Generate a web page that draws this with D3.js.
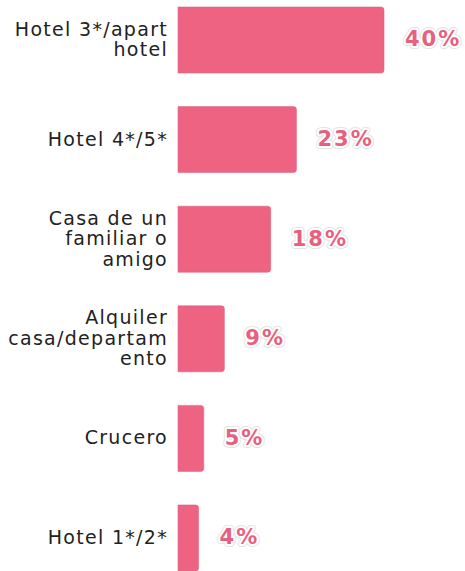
<!DOCTYPE html>
<meta charset="utf-8">
<style>
body { margin: 0; background: #fff; }
.label { font-family: "DejaVu Sans", sans-serif; font-size: 19px; letter-spacing: 1.3px; fill: #222; }
.value, .halo {
  font-family: "DejaVu Sans", sans-serif; font-size: 21px; font-weight: bold; letter-spacing: 2px;
  fill: #e8607f; stroke-linejoin: round; paint-order: stroke;
}
.halo { stroke: #e4e4e4; stroke-width: 6px; }
.value { stroke: #fff; stroke-width: 4px; }
</style>
<svg width="465" height="571"></svg>
<script src="https://d3js.org/d3.v7.min.js"></script>
<script>

var categories = ["Hotel 3*/apart hotel", "Hotel 4*/5*", "Casa de un familiar o amigo",
                  "Alquiler casa/departamento", "Crucero", "Hotel 1*/2*"];
var labelLines = [["Hotel 3*/apart", "hotel"], ["Hotel 4*/5*"], ["Casa de un", "familiar o", "amigo"],
                  ["Alquiler", "casa/departam", "ento"], ["Crucero"], ["Hotel 1*/2*"]];
var values = [40, 23, 18, 9, 5, 4];

var data = categories.map(function(c, i) { return {cat: c, lines: labelLines[i], value: values[i]}; });

var svg = d3.select("svg");

var x = d3.scaleLinear().domain([0, 40]).range([178, 384]);
var y = d3.scaleBand().domain(categories).range([7, 571]).paddingInner(0.337).paddingOuter(0);

svg.selectAll(".bar")
  .data(data)
  .enter().append("path")
  .attr("class", "bar")
  .attr("fill", "#ee6282")
  .attr("stroke", "#d9697f")
  .attr("stroke-width", 0.6)
  .attr("d", function(d) {
    var x0 = x(0), x1 = x(d.value), y0 = y(d.cat), h = y.bandwidth(), r = 3;
    return "M" + x0 + "," + y0 + "H" + (x1 - r) + "Q" + x1 + "," + y0 + " " + x1 + "," + (y0 + r) +
      "V" + (y0 + h - r) + "Q" + x1 + "," + (y0 + h) + " " + (x1 - r) + "," + (y0 + h) + "H" + x0 + "Z";
  });

var lab = svg.selectAll(".label")
  .data(data)
  .enter().append("text")
  .attr("class", "label")
  .attr("text-anchor", "end")
  .attr("x", 167)
  .attr("y", function(d) { return y(d.cat) + y.bandwidth() / 2; });

lab.selectAll("tspan")
  .data(function(d) { return d.lines.map(function(l, i) { return {t: l, i: i, n: d.lines.length}; }); })
  .enter().append("tspan")
  .attr("x", 168)
  .attr("dy", function(d) { return d.i === 0 ? (0.32 - (d.n - 1) * 0.54) + "em" : "1.08em"; })
  .text(function(d) { return d.t; });

["halo", "value"].forEach(function(cls) {
  svg.selectAll("." + cls)
    .data(data)
    .enter().append("text")
    .attr("class", cls)
    .attr("x", function(d) { return x(d.value) + 21; })
    .attr("y", function(d) { return y(d.cat) + y.bandwidth() / 2; })
    .attr("dy", "0.3em")
    .text(function(d) { return d.value + "%"; });
});

</script>
